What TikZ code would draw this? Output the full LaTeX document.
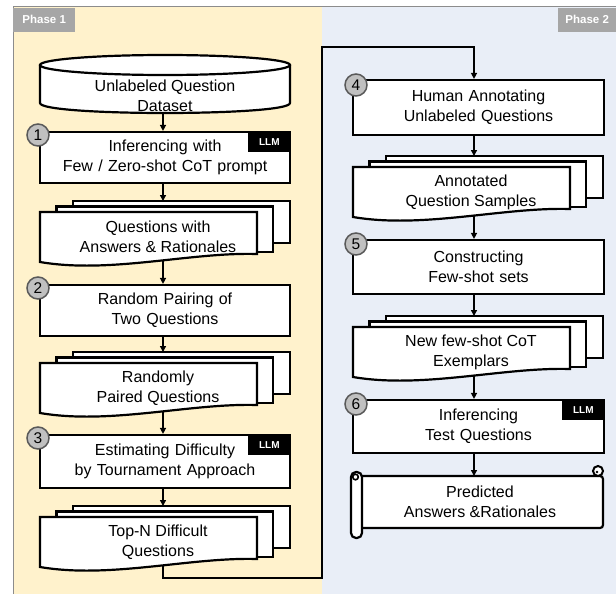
\documentclass[tikz,border=0pt]{standalone}
\usepackage{fontspec}
\setmainfont{Liberation Sans}
\usetikzlibrary{arrows.meta}

\definecolor{phaseone}{HTML}{FFF2CC}
\definecolor{phasetwo}{HTML}{E9EEF7}
\definecolor{tagbg}{HTML}{A6A6A6}
\definecolor{framegray}{HTML}{8C8C8C}
\definecolor{numfill}{HTML}{C0C0C0}
\definecolor{numline}{HTML}{595959}

\tikzset{
  boxline/.style={draw=black, fill=white, line width=2.2pt, line join=miter},
  procbox/.style={boxline, minimum width=250pt, text width=246pt, align=center,
    inner sep=0pt, font=\fontsize{16}{20}\selectfont},
  doctext/.style={align=center, inner sep=0pt, font=\fontsize{16}{20}\selectfont},
  llmtag/.style={fill=black, text=white, font=\fontsize{10}{12}\selectfont\bfseries,
    minimum width=43pt, minimum height=21pt, inner sep=0pt, anchor=north east},
  numdot/.style={circle, fill=numfill, draw=numline, line width=1.5pt,
    minimum size=22pt, inner sep=0pt, font=\fontsize{15.5}{15.5}\selectfont},
  phasetag/.style={fill=tagbg, text=white, font=\fontsize{11.5}{13}\selectfont\bfseries,
    inner sep=0pt, minimum height=24pt, anchor=north west},
  flow/.style={line width=1.4pt, -{Triangle[length=6pt,width=6pt]}},
}

% stack of three documents: #1 name, #2 left x, #3 top y of the front sheet,
% #4 arrow x, #5 text
\newcommand\docstack[5]{%
  \draw[boxline] (#2+33,#3-11) rectangle (#2+250,#3+31);
  \draw[boxline] (#2+16.5,#3-5.5) rectangle (#2+233,#3+40);
  \draw[boxline] (#2,#3) -- (#2+217,#3) -- (#2+217,#3+42)
    .. controls (#2+150,#3+40) and (#2+70,#3+62) .. (#2,#3+50) -- cycle;
  \node[doctext] (#1) at (#2+118,#3+25) {#5};
  \coordinate (#1-top) at (#4,#3-11);
  \coordinate (#1-bot) at (#4,#3+48);
}

\begin{document}
\begin{tikzpicture}[x=1pt,y=-1pt]
\useasboundingbox (0,0) rectangle (616,594);

% phase backgrounds and frame
\fill[phaseone] (13,7) rectangle (322,594);
\fill[phasetwo] (322,7) rectangle (616,594);
\draw[framegray, line width=1pt] (13,594) -- (13,7) -- (616,7);
\node[phasetag, minimum width=62pt] (p1) at (13,7.5) {Phase 1};
\node[phasetag, minimum width=58pt] (p2) at (558,7.5) {Phase 2};

% arrow columns
\coordinate (ax1) at (163,0);
\coordinate (ax2) at (474,0);

% ---------- phase 1 ----------
% dataset cylinder
\draw[boxline] (40,65) -- (40,103) .. controls (40,116.33) and (290,116.33) .. (290,103) -- (290,65);
\draw[boxline] (165,65) ellipse [x radius=125, y radius=10];
\node[doctext] (cyl) at (165,96) {Unlabeled Question\\Dataset};
\coordinate (cylbot) at (163,113);

\node[procbox, minimum height=51pt] (b1) at (165,157.5) {Inferencing with\\Few / Zero-shot CoT prompt};
\node[llmtag] (t1) at (b1.north east) {LLM};
\node[numdot] (n1) at (38,135) {1};

\docstack{s1}{40}{212}{163}{Questions with\\Answers \& Rationales}

\node[procbox, minimum height=51pt] (b2) at (165,310.5) {Random Pairing of\\Two Questions};
\node[numdot] (n2) at (38,288) {2};

\docstack{s2}{40}{363}{163}{Randomly\\Paired Questions}

\node[procbox, minimum height=53pt] (b3) at (165,461.5) {Estimating Difficulty\\by Tournament Approach};
\node[llmtag] (t3) at (b3.north east) {LLM};
\node[numdot] (n3) at (38,438) {3};

\docstack{s3}{40}{517}{163}{Top-N Difficult\\Questions}

% ---------- phase 2 ----------
\node[procbox, minimum width=251pt, minimum height=55pt] (b4) at (478.5,107.5) {Human Annotating\\Unlabeled Questions};
\node[numdot] (n4) at (356,85) {4};

\docstack{sA}{353}{167}{474}{Annotated\\Question Samples}

\node[procbox, minimum width=251pt, minimum height=54pt] (b5) at (478.5,267) {Constructing\\Few-shot sets};
\node[numdot] (n5) at (356,244) {5};

\docstack{sB}{353}{327}{474}{New few-shot CoT\\Exemplars}

\node[procbox, minimum width=251pt, minimum height=53pt] (b6) at (478.5,426.5) {Inferencing\\Test Questions};
\node[llmtag] (t6) at (b6.north east) {LLM};
\node[numdot] (n6) at (356,404) {6};

% scroll with the predicted output
\draw[boxline, rounded corners=3pt] (357,476) rectangle (603,528);
\draw[boxline, line width=2pt] (598,471) circle (5);
\fill (597,472) circle (1.3);
\draw[boxline, rounded corners=5pt] (351,472) rectangle (362,538);
\draw[black, line width=1.6pt, fill=white] (355.5,477) circle (2.8);
\node[doctext] (sc) at (480,502) {Predicted\\Answers \&Rationales};
\coordinate (sctop) at (474,476);

% ---------- connectors ----------
\draw[flow] (cylbot) -- (b1.north -| ax1);
\draw[flow] (b1.south -| ax1) -- (s1-top);
\draw[flow] (s1-bot) -- (b2.north -| ax1);
\draw[flow] (b2.south -| ax1) -- (s2-top);
\draw[flow] (s2-bot) -- (b3.north -| ax1);
\draw[flow] (b3.south -| ax1) -- (s3-top);

\coordinate (r1) at (322,578);
\coordinate (r2) at (322,47);
\draw[flow] (s3-bot) |- (r1) -- (r2) -| (b4.north -| ax2);

\draw[flow] (b4.south -| ax2) -- (sA-top);
\draw[flow] (sA-bot) -- (b5.north -| ax2);
\draw[flow] (b5.south -| ax2) -- (sB-top);
\draw[flow] (sB-bot) -- (b6.north -| ax2);
\draw[flow] (b6.south -| ax2) -- (sctop);
\end{tikzpicture}
\end{document}
